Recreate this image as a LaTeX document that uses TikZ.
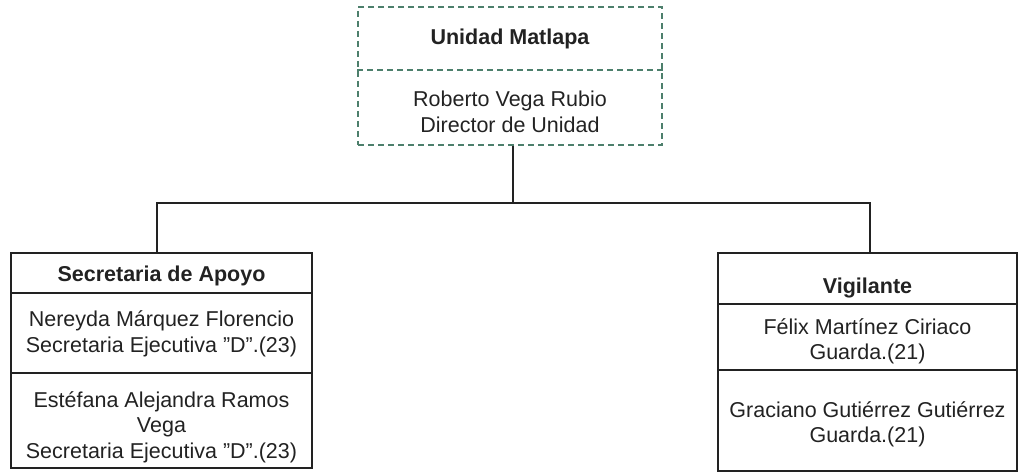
\documentclass[tikz,border=0pt]{standalone}
\usepackage{fontspec}
\setmainfont{Liberation Sans}
\definecolor{dashgreen}{HTML}{4D7F6C}
\definecolor{ink}{HTML}{222222}
\newcommand\dq{\symbol{34}}
\begin{document}
\begin{tikzpicture}[x=1pt,y=-1pt,
  txt/.style={align=center,inner sep=0pt,text=ink,font=\fontsize{21.5}{25.5}\selectfont},
  ttl/.style={txt,font=\fontsize{21.5}{25.5}\selectfont\bfseries},
  solidbox/.style={draw=ink,line width=1.3pt,inner sep=0pt},
  dashbox/.style={draw=dashgreen,line width=1.3pt,dash pattern=on 6pt off 4pt,inner sep=0pt},
  conn/.style={draw=ink,line width=1.3pt}]
\useasboundingbox (0,0) rectangle (1021,473);
% top box
\node[dashbox,minimum width=304pt,minimum height=138pt] (top) at (510,76) {};
\draw[dashbox] (top.west |- 0,70) -- (top.east |- 0,70);
\node[ttl] (t1) at (510,39) {Unidad Matlapa};
\node[txt] (t2) at (510,112) {Roberto Vega Rubio\\Director de Unidad};
% left box
\node[solidbox,minimum width=301pt,minimum height=215pt] (lb) at (161.5,360.5) {};
\draw[solidbox] (lb.west |- 0,293) -- (lb.east |- 0,293);
\draw[solidbox] (lb.west |- 0,373) -- (lb.east |- 0,373);
\node[ttl] (l1) at (161.5,276) {Secretaria de Apoyo};
\node[txt] (l2) at (161.5,334) {Nereyda Márquez Florencio\\Secretaria Ejecutiva \dq D\dq.(23)};
\node[txt] (l3) at (161.5,427) {Estéfana Alejandra Ramos\\Vega\\Secretaria Ejecutiva \dq D\dq.(23)};
% right box
\node[solidbox,minimum width=299pt,minimum height=218pt] (rb) at (867.5,362) {};
\draw[solidbox] (rb.west |- 0,304) -- (rb.east |- 0,304);
\draw[solidbox] (rb.west |- 0,370) -- (rb.east |- 0,370);
\node[ttl] (r1) at (867.5,288) {Vigilante};
\node[txt] (r2) at (867.5,341.5) {Félix Martínez Ciriaco\\Guarda.(21)};
\node[txt] (r3) at (867.5,424.5) {Graciano Gutiérrez Gutiérrez\\Guarda.(21)};
% connectors
\coordinate (j) at (513,203);
\draw[conn] (top.south -| j) -- (j);
\draw[conn] (lb.north -| 157,0) -- (157,203) -- (870,203) -- (rb.north -| 870,0);
\end{tikzpicture}
\end{document}
